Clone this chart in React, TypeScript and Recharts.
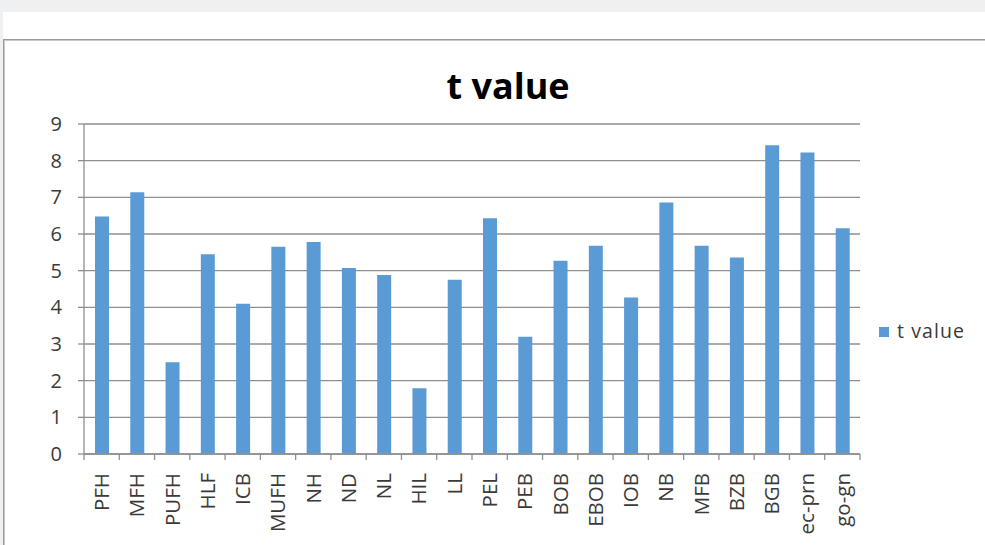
import React from 'react';
import { BarChart, Bar, XAxis, YAxis, CartesianGrid } from 'recharts';

const categories = ['PFH', 'MFH', 'PUFH', 'HLF', 'ICB', 'MUFH', 'NH', 'ND', 'NL', 'HIL', 'LL', 'PEL', 'PEB', 'BOB', 'EBOB', 'IOB', 'NB', 'MFB', 'BZB', 'BGB', 'ec-prn', 'go-gn'];
const tValues = [6.48, 7.14, 2.5, 5.45, 4.1, 5.65, 5.78, 5.07, 4.88, 1.79, 4.75, 6.43, 3.2, 5.27, 5.68, 4.27, 6.86, 5.68, 5.36, 8.42, 8.22, 6.16];
const yTicks = [0, 1, 2, 3, 4, 5, 6, 7, 8, 9];
const seriesName = 't value';
const chartTitle = 't value';

const data = categories.map((c, i) => ({ name: c, value: tValues[i] }));

const FONT = '"Open Sans", "Liberation Sans", sans-serif';
const GRID = '#8f8f8f';
const BAR = '#5b9bd5';
const PLOT_LEFT = 84;
const PLOT_RIGHT = 860;
const BAND = (PLOT_RIGHT - PLOT_LEFT) / categories.length;

const XTick = (props: any) => {
  const { x, y, payload, index } = props;
  const i = payload && payload.index != null ? payload.index : index;
  const left = x - BAND / 2;
  const right = x + BAND / 2;
  return (
    <g>
      <line x1={left} y1={y} x2={left} y2={y + 6} stroke={GRID} strokeWidth={1.3} />
      {i === categories.length - 1 && (
        <line x1={right} y1={y} x2={right} y2={y + 6} stroke={GRID} strokeWidth={1.3} />
      )}
      <text
        x={x}
        y={y + 19}
        transform={`rotate(-90, ${x}, ${y + 19})`}
        textAnchor="end"
        dy="0.36em"
        fill="#3a3a3a"
        fontFamily={FONT}
        fontSize={20.5}
      >
        {payload.value}
      </text>
    </g>
  );
};

export default function App() {
  return (
    <div
      style={{
        position: 'absolute',
        left: 0,
        top: 0,
        width: 985,
        height: 545,
        overflow: 'hidden',
        background: '#eff0f2',
      }}
    >
      <div style={{ position: 'absolute', left: 3, top: 12, width: 982, height: 533, background: '#fff' }} />
      <div
        style={{
          position: 'absolute',
          left: 3,
          top: 39,
          width: 982,
          height: 506,
          borderTop: '1px solid #9a9a9a',
          borderLeft: '1px solid #9a9a9a',
          boxShadow: 'inset 1px 1px 0 #c8c8c8',
          boxSizing: 'border-box',
        }}
      />
      <div
        style={{
          position: 'absolute',
          left: 308,
          width: 400,
          top: 68,
          textAlign: 'center',
          fontFamily: FONT,
          fontWeight: 700,
          fontSize: 36,
          lineHeight: '36px',
          color: '#000',
        }}
      >
        {chartTitle}
      </div>
      <div style={{ position: 'absolute', left: 0, top: 0 }}>
        <BarChart
          width={985}
          height={545}
          data={data}
          margin={{ top: 124, right: 985 - PLOT_RIGHT, bottom: 0, left: 0 }}
        >
          <CartesianGrid vertical={false} stroke={GRID} strokeWidth={1.3} />
          <XAxis
            dataKey="name"
            interval={0}
            height={91}
            tickSize={0}
            tickMargin={0}
            tickLine={false}
            axisLine={{ stroke: GRID, strokeWidth: 1.3 }}
            tick={<XTick />}
          />
          <YAxis
            width={PLOT_LEFT}
            domain={[0, 9]}
            ticks={yTicks}
            interval={0}
            tickSize={6}
            tickMargin={16}
            axisLine={{ stroke: GRID, strokeWidth: 1.3 }}
            tickLine={{ stroke: GRID, strokeWidth: 1.3 }}
            tick={{ fill: '#3a3a3a', fontFamily: FONT, fontSize: 20 }}
          />
          <Bar dataKey="value" name={seriesName} fill={BAR} barSize={14} isAnimationActive={false} />
        </BarChart>
      </div>
      <div style={{ position: 'absolute', left: 879, top: 327, width: 10, height: 10, background: BAR }} />
      <div
        style={{
          position: 'absolute',
          left: 897,
          top: 321,
          fontFamily: FONT,
          fontSize: 19.5,
          lineHeight: '19.5px',
          letterSpacing: 1.1,
          color: '#3a3a3a',
          whiteSpace: 'nowrap',
        }}
      >
        {seriesName}
      </div>
    </div>
  );
}
